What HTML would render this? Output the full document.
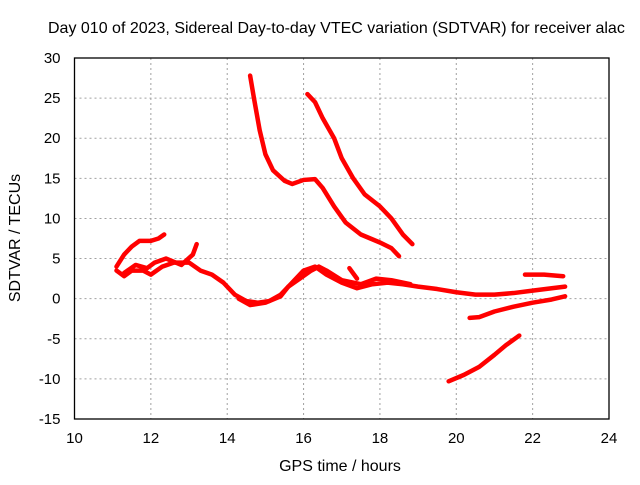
<!DOCTYPE html>
<html><head><meta charset="utf-8"><style>
body{margin:0;background:#fff}
svg text{font-family:"Liberation Sans",sans-serif;font-size:15px;fill:#000}
svg text.big{font-size:16px}
</style></head><body>
<svg id="chart" width="640" height="480" xmlns="http://www.w3.org/2000/svg">
<text class="big" x="48" y="33" text-anchor="start">Day 010 of 2023, Sidereal Day-to-day VTEC variation (SDTVAR) for receiver alac</text>
<text class="big" x="340" y="471" text-anchor="middle">GPS time / hours</text>
<text class="big" transform="translate(20,238) rotate(-90)" text-anchor="middle">SDTVAR / TECUs</text>
<g id="grid"></g><g id="series"></g><g id="axes"></g>
</svg>
<script>
const xTicks=[10,12,14,16,18,20,22,24];
const yTicks=[-15,-10,-5,0,5,10,15,20,25,30];
const seg1=[[14.6,27.8],[14.7,25],[14.85,21],[15.0,18],[15.2,16],[15.5,14.7],[15.7,14.3],[16.0,14.8],[16.3,14.9],[16.5,13.8],[16.8,11.5],[17.1,9.5],[17.5,8],[18.0,7],[18.3,6.3],[18.5,5.3]];
const seg2=[[16.1,25.5],[16.3,24.5],[16.5,22.5],[16.8,20],[17.0,17.5],[17.3,15],[17.6,13],[18.0,11.5],[18.3,10],[18.6,8],[18.85,6.8]];
const seg3=[[19.8,-10.3],[20.2,-9.5],[20.6,-8.5],[21.0,-7],[21.3,-5.8],[21.65,-4.6]];
const seg4=[[20.35,-2.4],[20.6,-2.3],[21.0,-1.6],[21.5,-1.0],[22.0,-0.5],[22.5,-0.1],[22.85,0.3]];
const seg5=[[21.8,3.0],[22.3,3.0],[22.8,2.8]];
const seg6=[[11.1,3.5],[11.3,2.8],[11.5,3.5],[11.8,3.5],[12.0,3],[12.3,4],[12.6,4.5],[13.0,4.5],[13.3,3.5],[13.6,3],[13.9,2],[14.2,0.5],[14.5,-0.3],[14.8,-0.5],[15.1,-0.3],[15.4,0.5],[15.7,2],[16.0,3.5],[16.3,4],[16.6,3],[17.0,2],[17.4,1.3],[17.8,1.8],[18.2,2],[18.6,1.8],[19.0,1.5],[19.5,1.2],[20.0,0.8],[20.5,0.5],[21.0,0.5],[21.5,0.7],[22.0,1],[22.5,1.3],[22.85,1.5]];
const seg7=[[11.1,4],[11.3,5.5],[11.5,6.5],[11.7,7.2],[12.0,7.2],[12.2,7.5],[12.35,8]];
const seg8=[[11.3,3.2],[11.6,4.2],[11.9,3.8],[12.1,4.5],[12.4,5],[12.8,4.2],[13.1,5.5],[13.2,6.8]];
const seg9=[[14.3,0],[14.6,-0.8],[15.0,-0.5],[15.4,0.3],[15.6,1.5],[15.9,2.5],[16.2,3.5],[16.4,4],[16.6,3.5],[17.0,2.3],[17.5,1.8],[17.9,2.5],[18.3,2.3],[18.8,1.8]];
const seg10=[[17.2,3.8],[17.4,2.5]];
const segments=[seg1,seg2,seg3,seg4,seg5,seg6,seg7,seg8,seg9,seg10];
const L=74.5,R=609,T=58,B=419,x0=10,x1=24,y0=-15,y1=30;
const X=v=>L+(v-x0)/(x1-x0)*(R-L);
const Y=v=>B-(v-y0)/(y1-y0)*(B-T);
const NS='http://www.w3.org/2000/svg';
const mk=(t,a,p)=>{const e=document.createElementNS(NS,t);for(const k in a)e.setAttribute(k,a[k]);p.appendChild(e);return e;};
const grid=document.getElementById('grid'),axes=document.getElementById('axes'),ser=document.getElementById('series');
xTicks.forEach(t=>{
 if(t>x0&&t<x1){const g=mk('line',{x1:X(t),x2:X(t),y1:T,y2:B,stroke:'#a0a0a0','stroke-dasharray':'2,3'},grid);
 
 }
 const lb=mk('text',{x:X(t),y:B+24,'text-anchor':'middle'},axes);lb.textContent=t;
 
 
});
yTicks.forEach(t=>{
 if(t>y0&&t<y1){const g=mk('line',{x1:L,x2:R,y1:Y(t),y2:Y(t),stroke:'#a0a0a0','stroke-dasharray':'2,3'},grid);
 
 }
 const lb=mk('text',{x:L-14,y:Y(t)+5,'text-anchor':'end'},axes);lb.textContent=t;
 
 
});
const fr=mk('rect',{x:L,y:T,width:R-L,height:B-T,fill:'none',stroke:'#000','stroke-width':1.3},axes);


segments.forEach(s=>{
 const p=mk('polyline',{points:s.map(d=>X(d[0])+','+Y(d[1])).join(' '),fill:'none',stroke:'#f00','stroke-width':4.5,'stroke-linejoin':'round','stroke-linecap':'round'},ser);
 
 
});
</script>
</body></html>
